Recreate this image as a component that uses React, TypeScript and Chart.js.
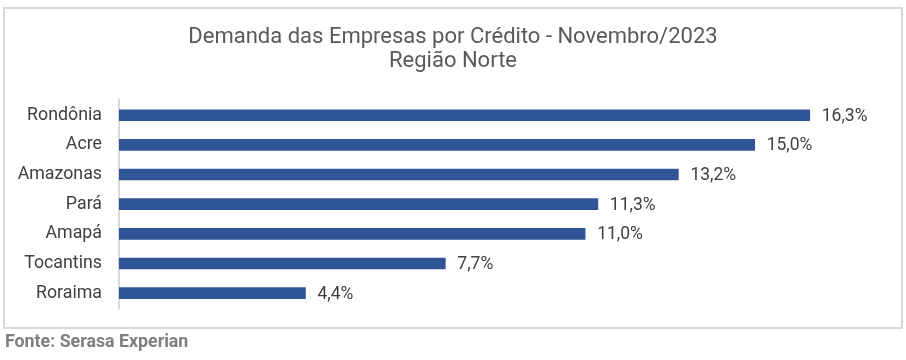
import React, { useEffect, useRef } from "react";
import { Chart, registerables } from "chart.js";

Chart.register(...registerables);

const titleLines = ["Demanda das Empresas por Crédito - Novembro/2023", "Região Norte"];
const states = ["Rondônia", "Acre", "Amazonas", "Pará", "Amapá", "Tocantins", "Roraima"];
const demand = [16.3, 15.0, 13.2, 11.3, 11.0, 7.7, 4.4];
const sourceText = "Fonte: Serasa Experian";

const FONT = "Roboto, 'Noto Sans', sans-serif";

const framePlugin = {
  id: "frame",
  beforeDraw(chart: any) {
    const ctx = chart.ctx;
    ctx.save();
    ctx.fillStyle = "#ffffff";
    ctx.fillRect(0, 0, chart.width, chart.height);
    ctx.strokeStyle = "#d9d9d9";
    ctx.lineWidth = 2;
    ctx.strokeRect(4, 8, 898, 320);
    ctx.restore();
  },
};

const valueLabelPlugin = {
  id: "valueLabels",
  afterDatasetsDraw(chart: any) {
    const ctx = chart.ctx;
    const meta = chart.getDatasetMeta(0);
    const data = chart.data.datasets[0].data as number[];
    ctx.save();
    ctx.font = `17.5px ${FONT}`;
    ctx.fillStyle = "#404040";
    ctx.textAlign = "left";
    ctx.textBaseline = "middle";
    meta.data.forEach((bar: any, i: number) => {
      const txt = data[i].toFixed(1).replace(".", ",") + "%";
      ctx.fillText(txt, bar.x + 12, bar.y + 1);
    });
    ctx.restore();
  },
};

export default function App() {
  const canvasRef = useRef<HTMLCanvasElement | null>(null);

  useEffect(() => {
    if (!canvasRef.current) return;
    const chart = new Chart(canvasRef.current, {
      type: "bar",
      data: {
        labels: states,
        datasets: [
          {
            data: demand,
            backgroundColor: "#2F5597",
            barThickness: 11,
          },
        ],
      },
      options: {
        indexAxis: "y",
        animation: false,
        responsive: false,
        devicePixelRatio: 1,
        layout: { padding: { top: 0, left: 17, right: 17, bottom: 52 } },
        plugins: {
          legend: { display: false },
          tooltip: { enabled: false },
          title: {
            display: true,
            text: titleLines,
            color: "#595959",
            font: { family: FONT, size: 22, weight: "normal", lineHeight: 1.1 },
            padding: { top: 25, bottom: 27 },
          },
        },
        scales: {
          x: {
            display: false,
            min: 0,
            max: 18.17,
          },
          y: {
            grid: { display: false, drawTicks: false },
            border: { display: true, color: "#d9d9d9", width: 2 },
            ticks: {
              color: "#404040",
              font: { family: FONT, size: 17.8 },
              padding: 17,
            },
            afterFit(scale: any) {
              scale.width = 102;
            },
          },
        },
      },
      plugins: [framePlugin, valueLabelPlugin],
    });
    return () => chart.destroy();
  }, []);

  return (
    <div style={{ position: "absolute", left: 0, top: 0, width: 906, height: 360 }}>
      <canvas ref={canvasRef} width={906} height={360} style={{ display: "block" }} />
      <div
        style={{
          position: "absolute",
          left: 5,
          top: 331,
          fontFamily: FONT,
          fontWeight: 700,
          fontSize: 17.8,
          lineHeight: "20px",
          color: "#7f7f7f",
          whiteSpace: "nowrap",
        }}
      >
        {sourceText}
      </div>
    </div>
  );
}
